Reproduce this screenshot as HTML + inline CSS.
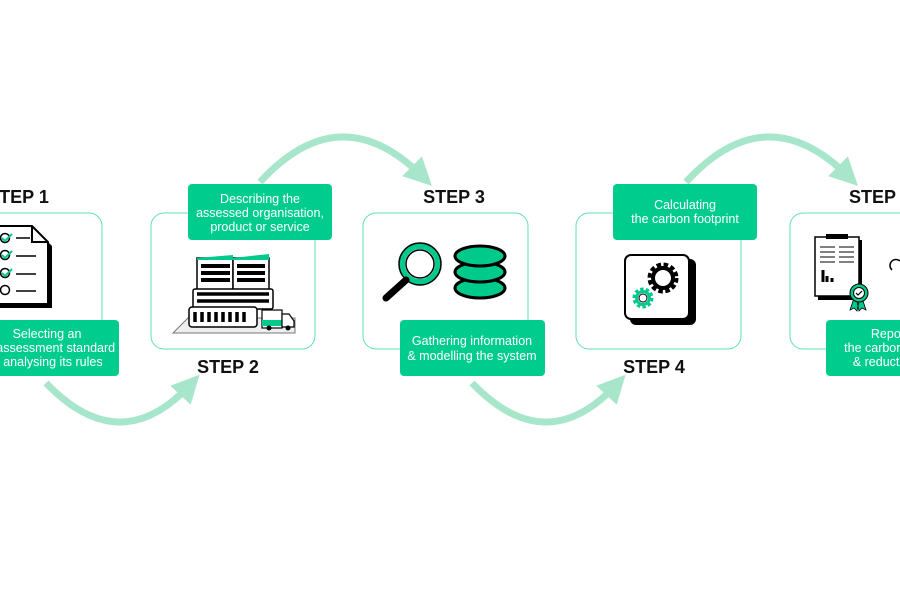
<!DOCTYPE html>
<html><head><style>
html,body{margin:0;padding:0;background:#fff;width:900px;height:600px;overflow:hidden}
svg{display:block}
.st{font:bold 18px "Liberation Sans",sans-serif;fill:#111}
.lb{font:12.5px "Liberation Sans",sans-serif;fill:#fff}
</style></head><body>
<svg width="900" height="600" viewBox="0 0 900 600" xmlns="http://www.w3.org/2000/svg">
<defs>
<marker id="ah" markerWidth="4" markerHeight="4" refX="2" refY="2" orient="auto" markerUnits="strokeWidth">
<path d="M0,0 L4,2 L0,4 Z" fill="#a8e6cc"/></marker>
</defs>
<g fill="none" stroke="#a8e6cc" stroke-width="7">
<path d="M46,383 Q120,460 190,385" marker-end="url(#ah)"/>
<path d="M260,182 Q340,95 422,176" marker-end="url(#ah)"/>
<path d="M472,383 Q546,460 616,385" marker-end="url(#ah)"/>
<path d="M686,182 Q766,95 848,176" marker-end="url(#ah)"/>
</g>
<g fill="#fff" stroke="#5fe0b0" stroke-width="1">
<rect x="-62" y="213" width="164" height="136" rx="13"/>
<rect x="151" y="213" width="164" height="136" rx="13"/>
<rect x="363" y="213" width="165" height="136" rx="13"/>
<rect x="576" y="213" width="165" height="136" rx="13"/>
<rect x="790" y="213" width="165" height="136" rx="13"/>
</g>
<g class="st">
<text x="18" y="203" text-anchor="middle">STEP 1</text>
<text x="228" y="373" text-anchor="middle">STEP 2</text>
<text x="454" y="203" text-anchor="middle">STEP 3</text>
<text x="654" y="373" text-anchor="middle">STEP 4</text>
<text x="849" y="203">STEP 5</text>
</g>
<!-- icon 1 checklist -->
<g>
<path d="M-8,230 L36,230 L52,246 L52,308 L-8,308Z" fill="#000"/>
<path d="M-12,226 L32,226 L48,242 L48,304 L-12,304Z" fill="#fff" stroke="#000" stroke-width="2"/>
<path d="M32,226 L32,242 L48,242" fill="none" stroke="#000" stroke-width="2"/>
<g fill="#fff" stroke="#000" stroke-width="1.5"><circle cx="5" cy="238" r="4.5"/><circle cx="5" cy="255" r="4.5"/><circle cx="5" cy="273" r="4.5"/><circle cx="5" cy="290" r="4.5"/></g>
<g fill="none" stroke="#00c98c" stroke-width="2"><path d="M2,238 l3,3 l7,-7"/><path d="M2,255 l3,3 l7,-7"/><path d="M2,273 l3,3 l7,-7"/></g>
<g stroke="#000" stroke-width="1.5"><path d="M16,238h14M16,256h20M16,274h20M16,291h20"/></g>
</g>
<!-- icon 2 building -->
<g>
<path d="M173,333 L188,318 L295,318 L295,333Z" fill="#eee" stroke="#777" stroke-width="1"/>
<rect x="197" y="258" width="36" height="40" fill="#fff" stroke="#000" stroke-width="1.5"/>
<rect x="233" y="258" width="36" height="40" fill="#fff" stroke="#000" stroke-width="1.5"/>
<path d="M197,258 L233,255 L233,260 L197,260Z M233,258 L269,254 L269,260 L233,260Z" fill="#00c98c"/>
<g stroke="#000" stroke-width="4"><path d="M201,266h29M201,273h29M201,280h29M237,266h28M237,273h28M237,280h28"/></g>
<rect x="193" y="289" width="80" height="20" fill="#fff" stroke="#000" stroke-width="1.5" rx="2"/>
<g stroke="#000" stroke-width="3.5"><path d="M197,294h72M197,301h72"/></g>
<rect x="189" y="307" width="68" height="20" fill="#fff" stroke="#000" stroke-width="1.5" rx="3"/>
<g stroke="#000" stroke-width="3.5"><path d="M195,312v10M202,312v10M209,312v10M216,312v10M223,312v10M230,312v10M237,312v10M244,312v10"/></g>
<rect x="262" y="310" width="20" height="18" fill="#fff" stroke="#000" stroke-width="1.2"/>
<rect x="262" y="320" width="20" height="6" fill="#00c98c"/>
<path d="M282,314 L289,314 L294,321 L294,327 L282,327Z" fill="#fff" stroke="#000" stroke-width="1.2"/>
<circle cx="269" cy="328" r="2.5" fill="#000"/><circle cx="288" cy="328" r="2.5" fill="#000"/>
</g>
<!-- icon 3 magnifier + db -->
<g>
<circle cx="420" cy="264" r="18" fill="#fff" stroke="#00c98c" stroke-width="6"/>
<circle cx="420" cy="264" r="21" fill="none" stroke="#000" stroke-width="1.5"/>
<circle cx="420" cy="264" r="14" fill="none" stroke="#000" stroke-width="1.5"/>
<path d="M406,280 L386,298" stroke="#000" stroke-width="7" stroke-linecap="round"/>
<g fill="#00c98c" stroke="#000" stroke-width="3">
<ellipse cx="480" cy="288" rx="25" ry="10"/>
<ellipse cx="480" cy="272" rx="25" ry="10"/>
<ellipse cx="480" cy="256" rx="25" ry="10"/>
</g>
</g>
<!-- icon 4 gears -->
<g>
<rect x="630" y="259" width="66" height="66" rx="6" fill="#000"/>
<rect x="625" y="255" width="64" height="64" rx="6" fill="#fff" stroke="#000" stroke-width="2"/>
<circle cx="663" cy="278" r="12" fill="none" stroke="#000" stroke-width="7" stroke-dasharray="4 2.3"/>
<circle cx="663" cy="278" r="10" fill="none" stroke="#000" stroke-width="4"/>
<circle cx="643" cy="298" r="8" fill="none" stroke="#00c98c" stroke-width="5" stroke-dasharray="3 2"/>
<circle cx="643" cy="298" r="6.5" fill="none" stroke="#00c98c" stroke-width="3"/>
<circle cx="643" cy="298" r="4" fill="none" stroke="#000" stroke-width="1"/>
</g>
<!-- icon 5 report -->
<g>
<rect x="818" y="240" width="44" height="60" fill="#000"/>
<rect x="815" y="237" width="44" height="59" fill="#fff" stroke="#000" stroke-width="1.5"/>
<rect x="826" y="234" width="22" height="5" fill="#000"/>
<g stroke="#000" stroke-width="1"><path d="M820,247h15M839,247h15M820,252h15M839,252h15M820,257h15M839,257h15M820,262h15M839,262h15"/></g>
<path d="M823,270v12M827,276v6M832,278v4" stroke="#000" stroke-width="3"/>
<path d="M854,298 l-4,12 l4,-2 l3,3 l2,-10Z M862,298 l4,12 l-4,-2 l-3,3 l-2,-10Z" fill="#00c98c" stroke="#000" stroke-width="0.8"/>
<circle cx="859" cy="293" r="9" fill="#00c98c" stroke="#000" stroke-width="1"/>
<circle cx="859" cy="293" r="5.5" fill="#fff" stroke="#000" stroke-width="1"/>
<path d="M856,293 l2,2 l4,-4" stroke="#000" fill="none" stroke-width="1.2"/>
<path d="M892,270 a6,6 0 0 1 8,-9" fill="none" stroke="#000" stroke-width="1.5"/>
</g>
<!-- green labels -->
<g fill="#00cc8e">
<rect x="-25" y="320" width="144" height="56" rx="4"/>
<rect x="188" y="184" width="144" height="56" rx="4"/>
<rect x="400" y="320" width="145" height="56" rx="4"/>
<rect x="613" y="184" width="144" height="56" rx="4"/>
<rect x="826" y="320" width="144" height="56" rx="4"/>
</g>
<g class="lb" text-anchor="middle">
<text x="47" y="338">Selecting an</text>
<text x="47" y="352">an assessment standard</text>
<text x="47" y="366">&amp; analysing its rules</text>
<text x="260" y="203">Describing the</text>
<text x="260" y="217">assessed organisation,</text>
<text x="260" y="231">product or service</text>
<text x="472" y="345">Gathering information</text>
<text x="472" y="360">&amp; modelling the system</text>
<text x="685" y="209">Calculating</text>
<text x="685" y="223">the carbon footprint</text>
<text x="898" y="338">Reporting</text>
<text x="898" y="352">the carbon footprint</text>
<text x="898" y="366">&amp; reduction plan</text>
</g>
</svg>
</body></html>
